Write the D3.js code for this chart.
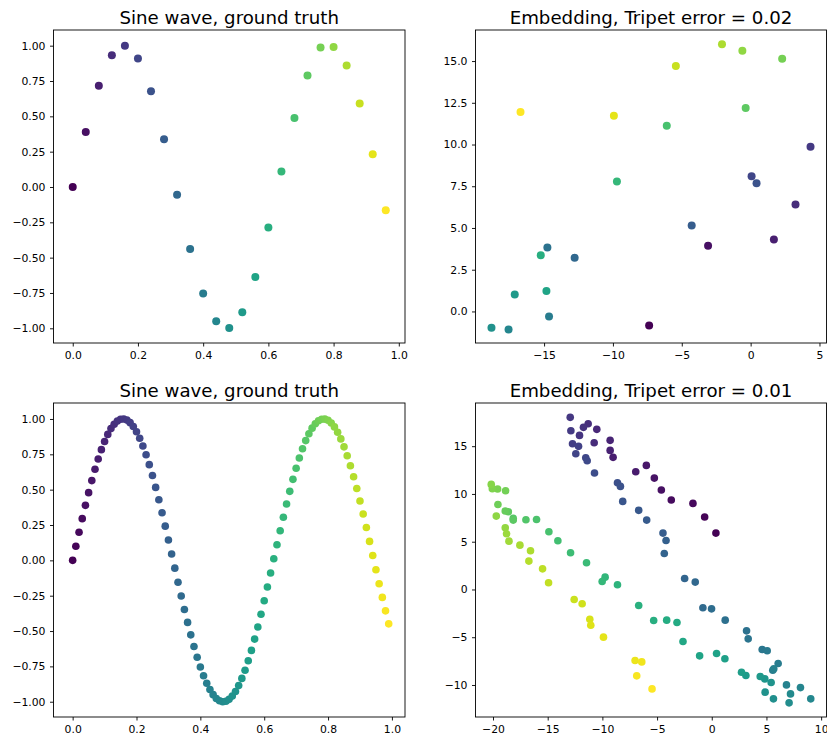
<!DOCTYPE html>
<html>
<head>
<meta charset="utf-8">
<script src="https://cdn.jsdelivr.net/npm/d3@7"></script>
<style>
  body { margin: 0; background: #fff; }
  svg { display: block; }
</style>
</head>
<body>
<script>
const W = 827, H = 738;

// top row: 25 samples
const sineX25 = [0, 0.04, 0.08, 0.12, 0.16, 0.2, 0.24, 0.28, 0.32, 0.36, 0.4, 0.44, 0.48,
    0.52, 0.56, 0.6, 0.64, 0.68, 0.72, 0.76, 0.8, 0.84, 0.88, 0.92, 0.96];
const sineY25 = [0, 0.389, 0.717, 0.932, 1.0, 0.910, 0.677, 0.337, -0.055, -0.439, -0.754, -0.950, -0.997,
    -0.886, -0.637, -0.286, 0.110, 0.488, 0.789, 0.987, 0.991, 0.859, 0.591, 0.232, -0.165];
const embedX25 = [-7.37, -3.09, 1.69, 3.26, 4.35, 0.07, 0.43, -4.28, -12.78, -14.76, -14.64, -17.58, -18.82,
    -17.13, -14.83, -15.24, -9.71, -6.09, -0.36, 2.29, -0.60, -2.08, -5.43, -9.93, -16.71];
const embedY25 = [-0.84, 3.93, 4.31, 6.40, 9.87, 8.10, 7.68, 5.15, 3.21, 3.83, -0.30, -1.08, -0.98,
    1.02, 1.22, 3.37, 7.78, 11.13, 12.19, 15.14, 15.62, 16.00, 14.70, 11.73, 11.95];

// bottom row: 100 samples
const sineX100 = [0, 0.01, 0.02, 0.03, 0.04, 0.05, 0.06, 0.07, 0.08, 0.09,
    0.1, 0.11, 0.12, 0.13, 0.14, 0.15, 0.16, 0.17, 0.18, 0.19,
    0.2, 0.21, 0.22, 0.23, 0.24, 0.25, 0.26, 0.27, 0.28, 0.29,
    0.3, 0.31, 0.32, 0.33, 0.34, 0.35, 0.36, 0.37, 0.38, 0.39,
    0.4, 0.41, 0.42, 0.43, 0.44, 0.45, 0.46, 0.47, 0.48, 0.49,
    0.5, 0.51, 0.52, 0.53, 0.54, 0.55, 0.56, 0.57, 0.58, 0.59,
    0.6, 0.61, 0.62, 0.63, 0.64, 0.65, 0.66, 0.67, 0.68, 0.69,
    0.7, 0.71, 0.72, 0.73, 0.74, 0.75, 0.76, 0.77, 0.78, 0.79,
    0.8, 0.81, 0.82, 0.83, 0.84, 0.85, 0.86, 0.87, 0.88, 0.89,
    0.9, 0.91, 0.92, 0.93, 0.94, 0.95, 0.96, 0.97, 0.98, 0.99];
const sineY100 = [0, 0.100, 0.199, 0.295, 0.389, 0.479, 0.564, 0.644, 0.717, 0.783,
    0.841, 0.891, 0.932, 0.963, 0.985, 0.998, 1.0, 0.992, 0.974, 0.947,
    0.910, 0.864, 0.809, 0.747, 0.677, 0.600, 0.516, 0.429, 0.337, 0.242,
    0.144, 0.045, -0.055, -0.155, -0.252, -0.348, -0.439, -0.527, -0.609, -0.685,
    -0.754, -0.816, -0.869, -0.914, -0.950, -0.977, -0.993, -1.0, -0.997, -0.983,
    -0.960, -0.928, -0.886, -0.835, -0.777, -0.710, -0.637, -0.557, -0.471, -0.381,
    -0.286, -0.188, -0.089, 0.011, 0.110, 0.209, 0.305, 0.399, 0.488, 0.573,
    0.652, 0.724, 0.789, 0.847, 0.895, 0.935, 0.966, 0.987, 0.998, 0.999,
    0.991, 0.972, 0.944, 0.906, 0.859, 0.803, 0.740, 0.669, 0.591, 0.508,
    0.420, 0.328, 0.232, 0.134, 0.034, -0.066, -0.165, -0.262, -0.357, -0.449];
const embedX100 = [0.38, -0.65, -1.72, -3.70, -4.61, -5.25, -5.98, -6.95, -9.02, -9.29,
    -9.29, -10.51, -10.75, -11.30, -11.73, -12.09, -12.94, -12.88, -12.73, -12.18,
    -12.43, -11.52, -11.39, -10.72, -8.62, -8.35, -8.14, -6.68, -5.95, -4.46,
    -4.18, -4.34, -2.48, -1.51, -0.81, -0.02, 1.23, 3.18, 3.33, 4.61,
    5.07, 6.07, 5.58, 5.67, 6.83, 8.11, 9.05, 7.20, 7.07, 5.64,
    4.88, 5.43, 4.85, 4.43, 3.12, 2.72, 1.20, 0.44, -1.11, -2.63,
    -3.18, -4.12, -5.31, -6.68, -8.62, -9.75, -10.02, -11.45, -12.91, -14.07,
    -14.89, -16.02, -16.99, -18.15, -18.15, -18.60, -18.88, -19.55, -18.85, -19.58,
    -20.06, -20.16, -19.70, -18.88, -18.76, -18.54, -17.54, -16.57, -16.72, -15.47,
    -14.92, -12.58, -11.85, -11.15, -11.06, -9.90, -7.01, -6.40, -6.86, -5.46];
const embedY100 = [5.90, 7.58, 9.01, 9.36, 10.41, 11.66, 12.99, 12.33, 13.83, 14.56,
    15.61, 16.76, 15.36, 17.35, 16.97, 16.13, 18.02, 16.62, 15.26, 14.98,
    14.21, 13.79, 13.48, 12.19, 11.17, 10.79, 9.22, 8.28, 7.26, 5.90,
    5.13, 3.77, 1.15, 0.77, -1.92, -2.03, -3.21, -4.33, -5.17, -6.28,
    -6.42, -7.75, -8.45, -8.31, -9.99, -10.27, -11.45, -10.93, -11.87, -11.45,
    -10.75, -9.74, -9.36, -9.11, -9.01, -8.66, -7.26, -6.70, -6.95, -5.45,
    -3.46, -3.21, -3.25, -1.68, 0.49, 1.29, 0.84, 2.79, 3.84, 5.10,
    6.04, 7.33, 7.30, 7.44, 7.26, 8.14, 8.21, 8.90, 10.34, 10.51,
    10.54, 11.00, 7.68, 6.46, 5.83, 5.06, 4.64, 4.05, 2.97, 2.16,
    0.70, -1.05, -1.50, -3.11, -3.74, -4.99, -7.44, -7.58, -9.04, -10.41];

const sineXTicks = [0, 0.2, 0.4, 0.6, 0.8, 1.0];
const sineYTicks = [-1, -0.75, -0.5, -0.25, 0, 0.25, 0.5, 0.75, 1];
const embTopXTicks = [-15, -10, -5, 0, 5];
const embTopYTicks = [0, 2.5, 5, 7.5, 10, 12.5, 15];
const embBotXTicks = [-20, -15, -10, -5, 0, 5, 10];
const embBotYTicks = [-10, -5, 0, 5, 10, 15];

const FONT = "'DejaVu Sans', sans-serif";

const svg = d3.select('body').append('svg')
    .attr('width', W)
    .attr('height', H);

let clipId = 0;

function panel(p) {
    const x = d3.scaleLinear().domain(p.xDomain).range([p.left, p.right]);
    const y = d3.scaleLinear().domain(p.yDomain).range([p.bottom, p.top]);
    const color = d3.scaleSequential(d3.interpolateViridis).domain([0, p.xs.length - 1]);

    const g = svg.append('g');
    const id = 'clip' + (clipId++);
    g.append('clipPath').attr('id', id)
        .append('rect')
        .attr('x', p.left).attr('y', p.top)
        .attr('width', p.right - p.left).attr('height', p.bottom - p.top);

    g.append('g').attr('clip-path', `url(#${id})`)
        .selectAll('circle')
        .data(p.xs)
        .join('circle')
        .attr('cx', d => x(d))
        .attr('cy', (d, i) => y(p.ys[i]))
        .attr('r', p.r)
        .attr('fill', (d, i) => color(i));

    const xAxis = g.append('g')
        .attr('transform', `translate(0,${p.bottom})`)
        .call(d3.axisBottom(x).tickValues(p.xTicks).tickFormat(d3.format(p.xFmt))
            .tickSizeInner(3.5).tickSizeOuter(0).tickPadding(4.5));
    const yAxis = g.append('g')
        .attr('transform', `translate(${p.left},0)`)
        .call(d3.axisLeft(y).tickValues(p.yTicks).tickFormat(d3.format(p.yFmt))
            .tickSizeInner(3.5).tickSizeOuter(0).tickPadding(4.5));

    [xAxis, yAxis].forEach(a => {
        a.select('.domain').remove();
        a.attr('font-family', FONT).attr('font-size', 10.8);
        a.selectAll('line').attr('stroke', '#000').attr('stroke-width', 0.9);
        a.selectAll('text').attr('fill', '#000');
    });

    g.append('rect')
        .attr('x', p.left).attr('y', p.top)
        .attr('width', p.right - p.left).attr('height', p.bottom - p.top)
        .attr('fill', 'none')
        .attr('stroke', '#000')
        .attr('stroke-width', 0.9);

    g.append('text')
        .attr('x', (p.left + p.right) / 2)
        .attr('y', p.top - 6.5)
        .attr('text-anchor', 'middle')
        .attr('font-family', FONT)
        .attr('font-size', 18.2)
        .attr('fill', '#000')
        .text(p.title);
}

panel({
    left: 53.5, right: 405, top: 30, bottom: 343,
    xs: sineX25, ys: sineY25, r: 4,
    xDomain: [-0.059, 1.019], yDomain: [-1.104, 1.111],
    xTicks: sineXTicks, yTicks: sineYTicks, xFmt: '.1f', yFmt: '.2f',
    title: 'Sine wave, ground truth'
});

panel({
    left: 475.5, right: 826.5, top: 30, bottom: 343,
    xs: embedX25, ys: embedY25, r: 4,
    xDomain: [-19.98, 5.51], yDomain: [-1.89, 16.86],
    xTicks: embTopXTicks, yTicks: embTopYTicks, xFmt: 'd', yFmt: '.1f',
    title: 'Embedding, Tripet error = 0.02'
});

panel({
    left: 53.5, right: 405, top: 403, bottom: 717,
    xs: sineX100, ys: sineY100, r: 3.8,
    xDomain: [-0.06, 1.041], yDomain: [-1.108, 1.113],
    xTicks: sineXTicks, yTicks: sineYTicks, xFmt: '.1f', yFmt: '.2f',
    title: 'Sine wave, ground truth'
});

panel({
    left: 475.5, right: 826.5, top: 403, bottom: 717,
    xs: embedX100, ys: embedY100, r: 3.8,
    xDomain: [-21.6, 10.49], yDomain: [-13.35, 19.52],
    xTicks: embBotXTicks, yTicks: embBotYTicks, xFmt: 'd', yFmt: 'd',
    title: 'Embedding, Tripet error = 0.01'
});
</script>
</body>
</html>
